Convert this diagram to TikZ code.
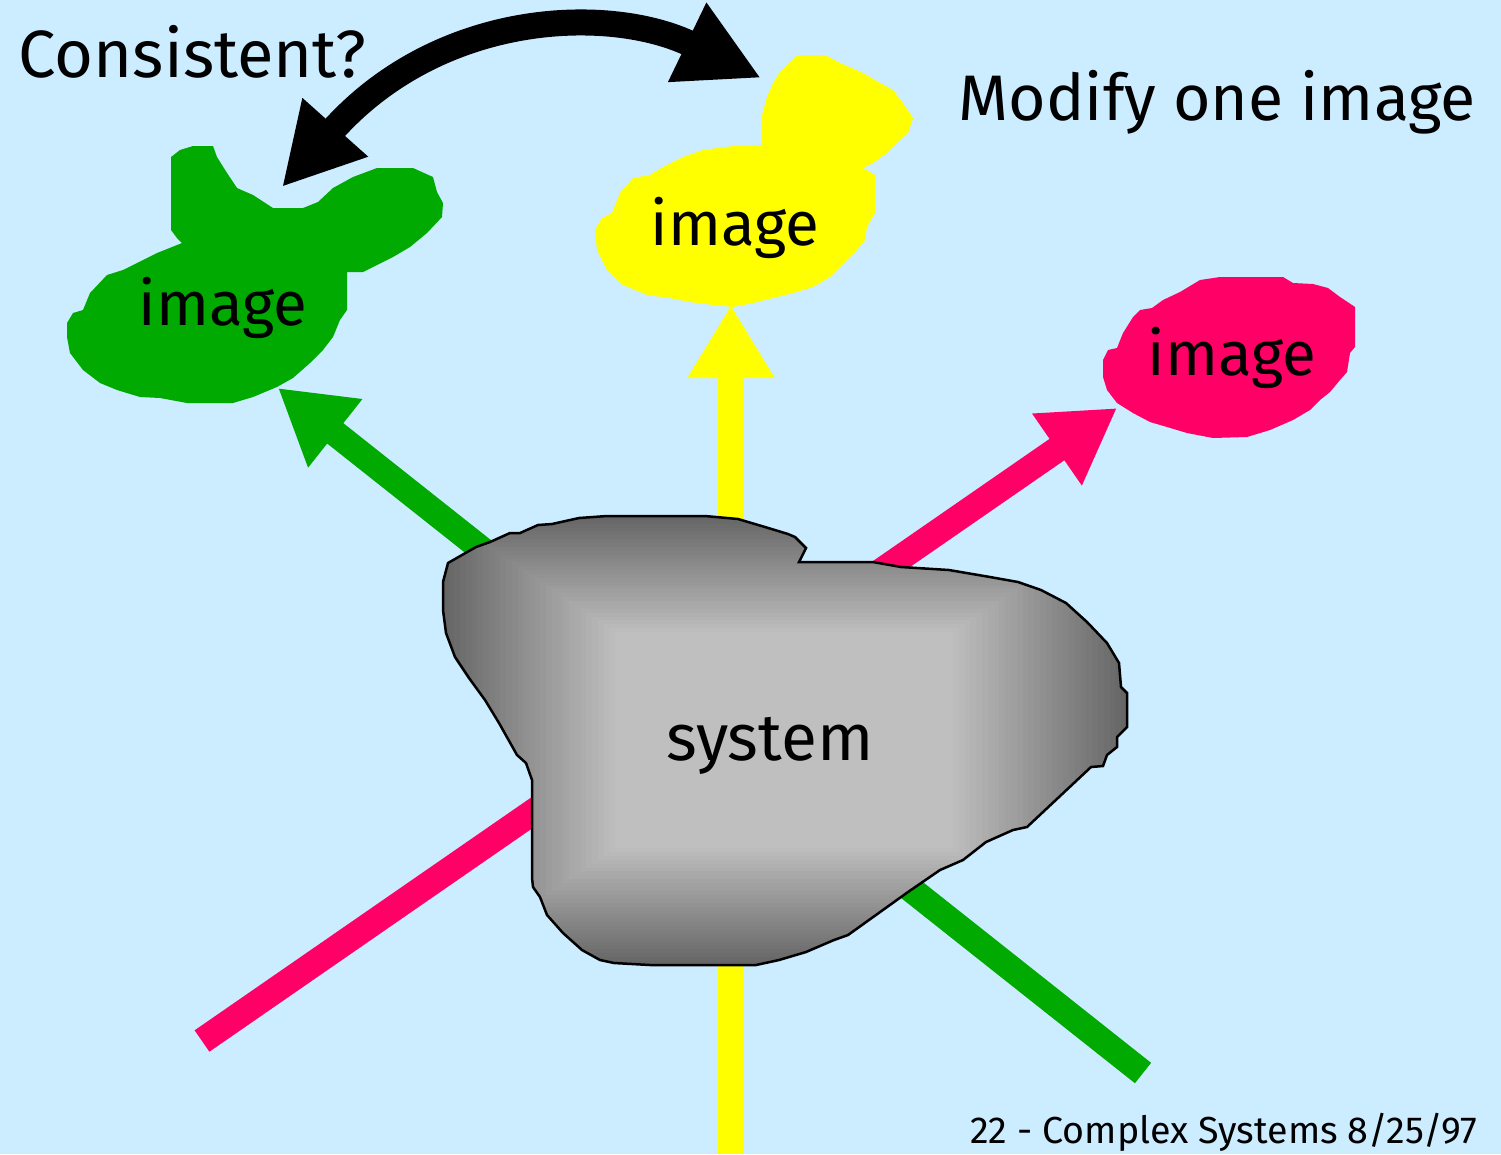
\documentclass[tikz,border=0pt]{standalone}
\usepackage{fontspec}
\setmainfont{Fira Sans}
\usetikzlibrary{arrows.meta, positioning}
\definecolor{skyback}{RGB}{204,236,255}
\definecolor{imggreen}{RGB}{0,170,0}
\definecolor{imgyellow}{RGB}{255,255,0}
\definecolor{imgpink}{RGB}{255,0,102}

\begin{document}
\begin{tikzpicture}[x=0.01cm, y=-0.01cm,
    axisline/.style={line width=0.26cm, -{Triangle[length=0.73cm, width=0.82cm]}},
    lbl/.style={anchor=base, inner sep=0pt, font=\fontsize{17.6pt}{20pt}\selectfont},
    title/.style={inner sep=0pt, font=\fontsize{19pt}{22pt}\selectfont}]
    \useasboundingbox (0,0) rectangle (1501,1154);
    \fill[skyback] (0,0) rectangle (1501,1154);

    % ends of the three axes
    \coordinate (ybot) at (731,1154);
    \coordinate (ytip) at (731,305);
    \coordinate (gbot) at (1143,1073);
    \coordinate (gtip) at (278,388);
    \coordinate (pbot) at (202,1041);
    \coordinate (ptip) at (1117,408);
    \draw[axisline, imgyellow] (ybot) -- (ytip);
    \draw[axisline, imggreen] (gbot) -- (gtip);
    \draw[axisline, imgpink] (pbot) -- (ptip);

    % the system
    \draw[line width=0.025cm, path picture={
        \foreach \i in {0,...,30} {
            \pgfmathsetmacro\t{\i/30}
            \pgfmathsetmacro\lev{60-35*\t}
            \fill[black!\lev] ({443+172*\t},{516+116*\t}) rectangle ({1127-174*\t},{965-117*\t});
        }}]
        (448,563) -- (476,547) -- (490,542) -- (510,533) -- (520,533) -- (538,525)
        -- (552,524) -- (579,518) -- (607,516) -- (705,516) -- (738,519) -- (765,527)
        -- (788,534) -- (795,537) -- (806,548) -- (799,562) -- (873,562) -- (901,567)
        -- (949,570) -- (990,577) -- (1018,582) -- (1041,590) -- (1066,603) -- (1087,622)
        -- (1107,643) -- (1119,663) -- (1121,687) -- (1127,693) -- (1127,727) -- (1117,737)
        -- (1117,747) -- (1107,755) -- (1103,766) -- (1091,767) -- (1027,827) -- (1013,830)
        -- (986,842) -- (963,860) -- (940,870) -- (908,892) -- (848,935) -- (834,940)
        -- (806,952) -- (779,960) -- (756,965) -- (650,965) -- (614,963) -- (600,960)
        -- (582,950) -- (563,933) -- (547,915) -- (540,897) -- (533,887) -- (532,878)
        -- (532,780) -- (526,763) -- (517,755) -- (499,723) -- (485,700) -- (469,678)
        -- (455,657) -- (446,633) -- (443,610) -- (443,582) -- cycle;

    % the three images
    \fill[imggreen] (171,157) -- (180,150) -- (193,146) -- (213,146) -- (217,157)
        -- (227,173) -- (237,188) -- (253,195) -- (273,208) -- (303,208) -- (318,202)
        -- (333,188) -- (353,177) -- (377,168) -- (413,168) -- (433,177) -- (437,192)
        -- (443,203) -- (442,217) -- (427,233) -- (410,247) -- (393,257) -- (373,267)
        -- (363,272) -- (347,272) -- (347,310) -- (340,320) -- (333,337) -- (323,350)
        -- (310,363) -- (293,378) -- (277,387) -- (253,397) -- (233,403) -- (187,403)
        -- (160,398) -- (140,397) -- (117,390) -- (100,383) -- (83,370) -- (70,353)
        -- (67,337) -- (67,323) -- (73,313) -- (83,310) -- (90,293) -- (107,275)
        -- (123,270) -- (137,263) -- (157,253) -- (177,245) -- (182,243) -- (177,238)
        -- (171,230) -- cycle;
    \fill[imgyellow] (780,72) -- (798,55) -- (825,55) -- (840,63) -- (863,73)
        -- (880,83) -- (893,90) -- (903,103) -- (913,118) -- (908,133) -- (897,143)
        -- (887,153) -- (873,163) -- (863,168) -- (875,175) -- (875,213) -- (867,227)
        -- (865,240) -- (857,250) -- (847,260) -- (830,277) -- (813,287) -- (793,293)
        -- (773,298) -- (753,303) -- (733,307) -- (713,305) -- (690,302) -- (670,298)
        -- (647,295) -- (623,285) -- (607,270) -- (597,250) -- (595,230) -- (602,218)
        -- (612,213) -- (620,193) -- (633,178) -- (650,175) -- (663,167) -- (683,157)
        -- (703,150) -- (733,146) -- (762,145) -- (762,115) -- (767,97) -- (773,83) -- cycle;
    \fill[imgpink] (1200,280) -- (1220,277) -- (1283,277) -- (1293,283) -- (1313,284)
        -- (1328,288) -- (1340,297) -- (1355,307) -- (1355,347) -- (1350,353)
        -- (1347,372) -- (1340,380) -- (1330,392) -- (1320,400) -- (1310,410)
        -- (1293,420) -- (1270,430) -- (1247,437) -- (1213,438) -- (1187,433)
        -- (1167,427) -- (1150,422) -- (1133,413) -- (1117,403) -- (1107,390)
        -- (1103,377) -- (1103,360) -- (1108,350) -- (1117,348) -- (1123,333)
        -- (1133,317) -- (1140,310) -- (1152,308) -- (1163,300) -- (1180,292) -- cycle;

    \node[lbl] (gimg) at (223,325) {image};
    \node[lbl] (yimg) at (735,245) {image};
    \node[lbl] (pimg) at (1232,375) {image};
    \node[lbl, font=\fontsize{18.7pt}{22pt}\selectfont] (sys) at (770,760) {system};

    \node[title, anchor=base west] (ask) at (18,77) {Consistent?};
    \node[title, anchor=base west, font=\fontsize{18.3pt}{22pt}\selectfont] (task) at (958,120) {Modify one image};
    \node[anchor=base east, inner sep=0pt, font=\fontsize{10.7pt}{12pt}\selectfont] (foot)
        at (1478,1143) {22 - Complex Systems 8/25/97};

    % comparing the two images
    \coordinate (gtop) at (282,187);
    \coordinate (ytop) at (761,78);
    \draw[line width=0.26cm, {Triangle[length=0.8cm, width=0.82cm]}-{Triangle[length=0.82cm, width=0.82cm]}]
        (gtop) .. controls (440,10) and (610,5) .. (ytop);
\end{tikzpicture}
\end{document}
